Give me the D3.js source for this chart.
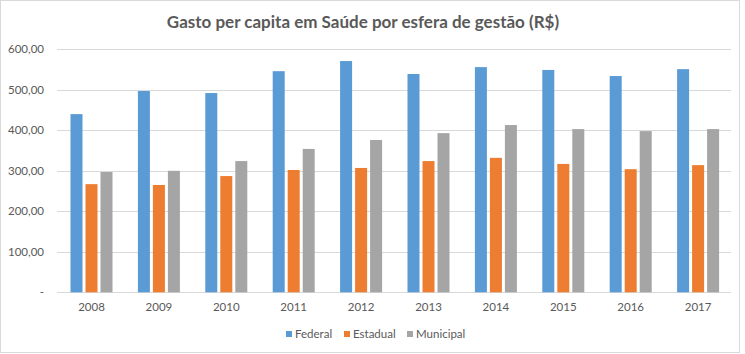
<!DOCTYPE html>
<html lang="pt">
  <head>
    <meta charset="utf-8" />
    <title>Gasto per capita em Saúde</title>
    <script src="https://d3js.org/d3.v7.min.js"></script>
    <style type="text/css">
      body {
        margin: 0;
        background: #fff;
      }
      svg text {
        font-family: Lato, "Open Sans", sans-serif;
        fill: #595959;
      }
    </style>
  </head>
  <body>
    <script type="text/javascript">
      //Width and height
      var w = 745;
      var h = 354;

      var years = ["2008", "2009", "2010", "2011", "2012", "2013", "2014", "2015", "2016", "2017"];
      var seriesNames = ["Federal", "Estadual", "Municipal"];
      var colors = ["#5b9bd5", "#ed7d31", "#a5a5a5"];

      var federal = [440, 497, 492, 546, 571, 539, 556, 549, 534, 551];
      var estadual = [267, 265, 287, 302, 307, 324, 332, 317, 304, 314];
      var municipal = [297, 300, 324, 354, 376, 393, 413, 403, 398, 403];

      var yTicks = [0, 100, 200, 300, 400, 500, 600];

      var series = [federal, estadual, municipal];

      var plotLeft = 57, plotRight = 731, plotTop = 49.3, plotBottom = 292.3;

      var xScale = d3.scaleBand().domain(years).range([plotLeft, plotRight]);

      var inner = d3
        .scaleBand()
        .domain(d3.range(series.length))
        .range([0, 42])
        .paddingInner(0.2);

      var yScale = d3.scaleLinear().domain([0, 600]).range([plotBottom, plotTop]);

      var fmt = function (d) {
        if (d === 0) return "-";
        return d3.format(".2f")(d).replace(".", ",");
      };

      var svg = d3.select("body").append("svg").attr("width", w).attr("height", h);

      //Chart border
      svg
        .append("rect")
        .attr("x", 0.5)
        .attr("y", 0.5)
        .attr("width", 739)
        .attr("height", 352)
        .attr("fill", "#fff")
        .attr("stroke", "#d9d9d9");

      //Gridlines
      svg
        .selectAll("line.grid")
        .data(yTicks)
        .enter()
        .append("line")
        .attr("class", "grid")
        .attr("x1", plotLeft)
        .attr("x2", plotRight)
        .attr("y1", function (d) {
          return Math.round(yScale(d)) + 0.5;
        })
        .attr("y2", function (d) {
          return Math.round(yScale(d)) + 0.5;
        })
        .attr("stroke", "#d9d9d9");

      //Y labels
      svg
        .selectAll("text.ylab")
        .data(yTicks)
        .enter()
        .append("text")
        .attr("class", "ylab")
        .attr("x", 44)
        .attr("y", function (d) {
          return yScale(d);
        })
        .attr("dy", "0.35em")
        .attr("text-anchor", "end")
        .style("font-size", "11.5px")
        .text(fmt);

      //Bars
      var groups = svg
        .selectAll("g.year")
        .data(years)
        .enter()
        .append("g")
        .attr("class", "year")
        .attr("transform", function (d) {
          return "translate(" + (xScale(d) + (xScale.bandwidth() - 42) / 2 + 0.8) + ",0)";
        });

      groups
        .selectAll("rect")
        .data(function (d, i) {
          return series.map(function (s, j) {
            return { s: j, v: s[i] };
          });
        })
        .enter()
        .append("rect")
        .attr("x", function (d) {
          return inner(d.s);
        })
        .attr("y", function (d) {
          return yScale(d.v);
        })
        .attr("width", inner.bandwidth())
        .attr("height", function (d) {
          return plotBottom - yScale(d.v);
        })
        .attr("fill", function (d) {
          return colors[d.s];
        });

      //X labels
      svg
        .selectAll("text.xlab")
        .data(years)
        .enter()
        .append("text")
        .attr("class", "xlab")
        .attr("x", function (d) {
          return xScale(d) + xScale.bandwidth() / 2 + 0.8;
        })
        .attr("y", 307)
        .attr("dy", "0.35em")
        .attr("text-anchor", "middle")
        .style("font-size", "11.5px")
        .text(function (d) {
          return d;
        });

      //Title
      svg
        .append("text")
        .attr("x", 363)
        .attr("y", 22)
        .attr("dy", "0.35em")
        .attr("text-anchor", "middle")
        .style("font-size", "17px")
        .style("font-weight", "bold")
        .text("Gasto per capita em Saúde por esfera de gestão (R$)");

      //Legend
      var legendX = [286, 344, 407];
      var legend = svg
        .selectAll("g.legend")
        .data(seriesNames)
        .enter()
        .append("g")
        .attr("class", "legend")
        .attr("transform", function (d, i) {
          return "translate(" + legendX[i] + ",334)";
        });

      legend
        .append("rect")
        .attr("x", 0)
        .attr("y", -3)
        .attr("width", 6)
        .attr("height", 6)
        .attr("fill", function (d, i) {
          return colors[i];
        });

      legend
        .append("text")
        .attr("x", 9)
        .attr("y", 0)
        .attr("dy", "0.35em")
        .style("font-size", "11.5px")
        .text(function (d) {
          return d;
        });
    </script>
  </body>
</html>
